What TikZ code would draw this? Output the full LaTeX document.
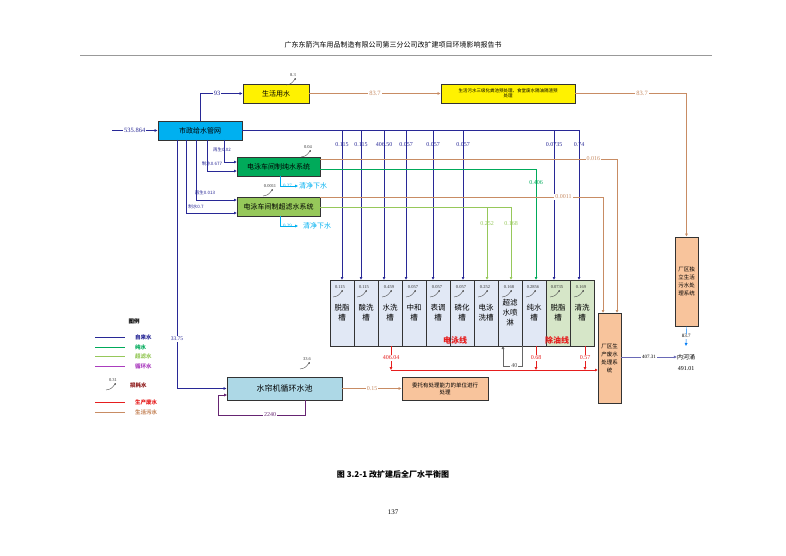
\documentclass[tikz,border=0pt]{standalone}
\usepackage{fontspec}
\setmainfont{Liberation Serif}
\newfontfamily\cjk{Noto Sans CJK SC}
\usetikzlibrary{arrows.meta}
\definecolor{cblue}{RGB}{40,40,150}
\definecolor{cgreen}{RGB}{0,170,90}
\definecolor{clgreen}{RGB}{150,200,90}
\definecolor{cbrown}{RGB}{200,140,100}
\definecolor{cred}{RGB}{230,30,30}
\definecolor{cpurple}{RGB}{170,60,190}
\definecolor{ccyan}{RGB}{0,176,240}
\definecolor{corange}{RGB}{248,196,156}
\definecolor{ctank}{RGB}{225,232,245}
\definecolor{cgtank}{RGB}{214,230,200}
\definecolor{cpool}{RGB}{173,216,230}
\begin{document}
\begin{tikzpicture}[x=1pt,y=-1pt,
  box/.style={draw=black!80,thick,inner sep=0pt,align=center,font=\cjk\fontsize{7}{8}\selectfont},
  lab/.style={font=\fontsize{6}{7}\selectfont,inner sep=1pt,fill=white},
  bl/.style={cblue,thick},
  arr/.style={-{Latex[length=3pt,width=3pt]}},
  tank/.style={draw=black!80,fill=ctank,minimum width=24pt,minimum height=66pt,inner sep=0pt,anchor=north west,align=center,font=\cjk\fontsize{7.5}{10}\selectfont},
  gtank/.style={tank,fill=cgtank}]
\useasboundingbox (0,0) rectangle (786,556);
\newcommand\loss[3]{\draw[black!70,-{Latex[length=2pt,width=2pt]}] (#1-7,#2+4) .. controls (#1-2,#2+3) .. (#1+3,#2-3);
  \node[font=\fontsize{4.5}{5}\selectfont,text=black!80,inner sep=0pt] at (#1,#2-6) {#3};}
% header
\node[font=\cjk\fontsize{7}{8}\selectfont] (hdr) at (393,45) {广东东箭汽车用品制造有限公司第三分公司改扩建项目环境影响报告书};
\draw[black!40] (80,55) -- (712,55);
% main boxes
\node[box,fill=ccyan,minimum width=84pt,minimum height=19pt] (sz) at (200,130.5) {市政给水管网};
\node[box,fill=yellow,minimum width=66pt,minimum height=19pt] (sh) at (276,93.5) {生活用水};
\node[box,fill=yellow,minimum width=134pt,minimum height=19pt,font=\cjk\fontsize{4.5}{5.5}\selectfont] (hf) at (508,93.5) {生活污水三级化粪池预处理、食堂废水隔油隔渣预\\处理};
\node[box,fill=cgreen,minimum width=83pt,minimum height=19pt] (cs) at (278.5,166.5) {电泳车间制纯水系统};
\node[box,fill=clgreen,minimum width=83pt,minimum height=19pt] (cl) at (278.5,206.5) {电泳车间制超滤水系统};
\node[box,fill=corange,minimum width=23pt,minimum height=89pt,font=\cjk\fontsize{5.5}{8}\selectfont] (dl) at (686.5,281.5) {厂区独\\立生活\\污水处\\理系统};
\node[box,fill=corange,minimum width=23pt,minimum height=90pt,font=\cjk\fontsize{5.5}{8}\selectfont] (sc) at (609.5,358) {厂区生\\产废水\\处理系\\统};
\node[box,fill=cpool,minimum width=115pt,minimum height=23pt,font=\cjk\fontsize{8}{9}\selectfont] (sl) at (284.5,388.5) {水帘机循环水池};
\node[box,fill=corange,minimum width=86pt,minimum height=23pt,font=\cjk\fontsize{5.5}{7}\selectfont] (wt) at (445,388.5) {委托有处理能力的单位进行\\处理};
\node[font=\cjk\fontsize{6}{7}\selectfont,inner sep=0pt] (nh) at (686,357) {内河涌};
\node[font=\fontsize{6}{7}\selectfont,inner sep=0pt] (tot) at (686,369) {491.01};
% tanks
\node[tank] (t1) at (330,280) {\\[-4pt]脱脂\\槽};
\node[tank] (t2) at (354,280) {\\[-4pt]酸洗\\槽};
\node[tank] (t3) at (378,280) {\\[-4pt]水洗\\槽};
\node[tank] (t4) at (402,280) {\\[-4pt]中和\\槽};
\node[tank] (t5) at (426,280) {\\[-4pt]表调\\槽};
\node[tank] (t6) at (450,280) {\\[-4pt]磷化\\槽};
\node[tank] (t7) at (474,280) {\\[-4pt]电泳\\洗槽};
\node[tank] (t8) at (498,280) {\\[-4pt]超滤\\水喷\\淋};
\node[tank] (t9) at (522,280) {\\[-4pt]纯水\\槽};
\node[gtank] (t10) at (546,280) {\\[-4pt]脱脂\\槽};
\node[gtank] (t11) at (570,280) {\\[-4pt]清洗\\槽};
\node[text=cred,font=\cjk\bfseries\fontsize{8}{9}\selectfont] (ldy) at (455,340) {电泳线};
\node[text=cred,font=\cjk\bfseries\fontsize{8}{9}\selectfont] (lcy) at (557,340) {除油线};
\loss{340}{293}{0.115}\loss{364}{293}{0.115}\loss{389}{293}{0.459}\loss{413}{293}{0.057}\loss{437}{293}{0.057}\loss{461}{293}{0.057}
\loss{485}{293}{0.252}\loss{509}{293}{0.168}\loss{533}{293}{0.2856}\loss{557}{293}{0.0735}\loss{581}{293}{0.169}
\loss{293}{81}{8.3}\loss{308}{153}{0.04}\loss{270}{192}{0.0011}\loss{307}{365}{33.6}
% input
\coordinate (in0) at (112,130.5);
\draw[bl,arr] (in0) -- node[lab,font=\fontsize{6.5}{7}\selectfont]{535.864} (sz.west);
\draw[bl,arr] (200,121) |- node[lab,pos=0.7,font=\fontsize{6.5}{7}\selectfont]{93} (sh.west);
\draw[cbrown,thick,arr] (sh.east) -- node[lab,font=\fontsize{6.5}{7}\selectfont]{83.7} (hf.west);
\draw[cbrown,thick,arr] (hf.east) -| node[lab,pos=0.3,font=\fontsize{6.5}{7}\selectfont]{83.7} (dl.north);
\draw[ccyan!70!blue,arr] (dl.south) -- node[lab,font=\fontsize{5}{6}\selectfont,text=black]{83.7} (686,346);
\draw[cblue!70,arr] (sc.east|-0,357) -- node[lab,font=\fontsize{5}{6}\selectfont,text=black]{407.31} (nh.west);
% blue header line and drops
\draw[bl] (sz.east) -- (579,130.5);
\foreach \x/\v in {342/0.115,361/0.115,384/406.50,406/0.057,433/0.057,463/0.057,554/0.0735,579/0.74}{
  \draw[bl,arr] (\x,130.5) -- (\x,280);
  \node[lab,text=cblue,fill=none] at (\x,145) {\v};}
% from 市政 to systems
\draw[bl,arr] (224,140) |- (237,162);
\node[lab,fill=none,text=cblue,font=\cjk\fontsize{4.5}{5}\selectfont] at (222,150) {再生0.02};
\draw[bl,arr] (207,140) |- (237,171);
\node[lab,fill=none,text=cblue,font=\cjk\fontsize{4.5}{5}\selectfont] at (212,164) {制水0.677};
\draw[bl,arr] (196,140) |- (237,200);
\node[lab,fill=none,text=cblue,font=\cjk\fontsize{4.5}{5}\selectfont] at (205,193) {再生0.013};
\draw[bl,arr] (186,140) |- (237,213);
\node[lab,fill=none,text=cblue,font=\cjk\fontsize{4.5}{5}\selectfont] at (196,207) {制水0.7};
\draw[bl,arr] (177,140) |- node[lab,pos=0.4,font=\fontsize{5.5}{6}\selectfont,text=cblue]{33.75} (sl.west);
% 清净下水
\draw[ccyan,arr] (280,176) |- (298,186);
\node[lab,fill=none,text=ccyan,font=\fontsize{5}{6}\selectfont,anchor=west] at (282,186) {0.27};
\node[text=ccyan,font=\cjk\fontsize{7}{8}\selectfont,anchor=west,inner sep=0pt] (q1) at (299,186) {清净下水};
\draw[ccyan,arr] (280,216) |- (298,226);
\node[lab,fill=none,text=ccyan,font=\fontsize{5}{6}\selectfont,anchor=west] at (282,226) {0.29};
\node[text=ccyan,font=\cjk\fontsize{7}{8}\selectfont,anchor=west,inner sep=0pt] (q2) at (303,226) {清净下水};
% green / light green supply
\draw[cgreen,thick,arr] (cs.east|-0,169) -| (536,280);
\node[lab,fill=none,text=cgreen] at (536,183) {0.406};
\draw[clgreen,thick] (cl.east|-0,207) -- (511,207);
\draw[clgreen,thick,arr] (511,207) -- (511,280);
\draw[clgreen,thick,arr] (487,207) -- (487,280);
\node[lab,fill=none,text=clgreen] at (487,224) {0.252};
\node[lab,fill=none,text=clgreen] at (511,224) {0.168};
% brown waste from systems
\draw[cbrown,thick,arr] (cs.east|-0,159) -| node[lab,pos=0.46,text=cbrown]{0.016} (617,313);
\draw[cbrown,thick,arr] (cl.east|-0,197) -| node[lab,pos=0.43,text=cbrown]{0.0011} (603,313);
% red wastewater
\draw[cred,thick,arr] (391,370) -- (598,370);
\draw[cred,arr] (391,346) -- node[lab,pos=0.5,text=cred]{406.04} (391,370);
\draw[cred,arr] (536,346) -- node[lab,pos=0.5,text=cred]{0.68} (536,370);
\draw[cred,arr] (585,346) -- node[lab,pos=0.5,text=cred]{0.57} (585,370);
\draw[black!60,arr] (522,346) |- node[lab,pos=0.7,text=black!70]{40} (503,366) -- (503,346);
% 水帘 loop
\draw[cpurple!60!black,arr] (305,400) |- node[lab,pos=0.7,text=cpurple!60!black]{2240} (218,415) |- (227,395);
\draw[cbrown,thick,arr] (sl.east) -- node[lab,text=cbrown]{0.15} (wt.west);
% legend
\node[font=\cjk\bfseries\fontsize{5.5}{6}\selectfont] (lg) at (134,321) {图例};
\foreach \y/\c/\t in {337/cblue/自来水,347/cgreen/纯水,356/clgreen/超滤水,366/cpurple/循环水,402/cred/生产废水,412/cbrown/生活污水}{
  \draw[\c,thick] (95,\y) -- (125,\y);
  \node[anchor=west,text=\c,font=\cjk\bfseries\fontsize{5.5}{6}\selectfont,inner sep=0pt] at (135,\y) {\t};}
\loss{113}{386}{0.31}
\node[anchor=west,text=cred!60!black,font=\cjk\bfseries\fontsize{5.5}{6}\selectfont,inner sep=0pt] (ls) at (130,385) {损耗水};
% caption
\node[font=\cjk\bfseries\fontsize{8}{9}\selectfont] (cap) at (393,474) {图 3.2-1 改扩建后全厂水平衡图};
\node[font=\fontsize{7}{8}\selectfont] (pg) at (393,512) {137};
\end{tikzpicture}
\end{document}
